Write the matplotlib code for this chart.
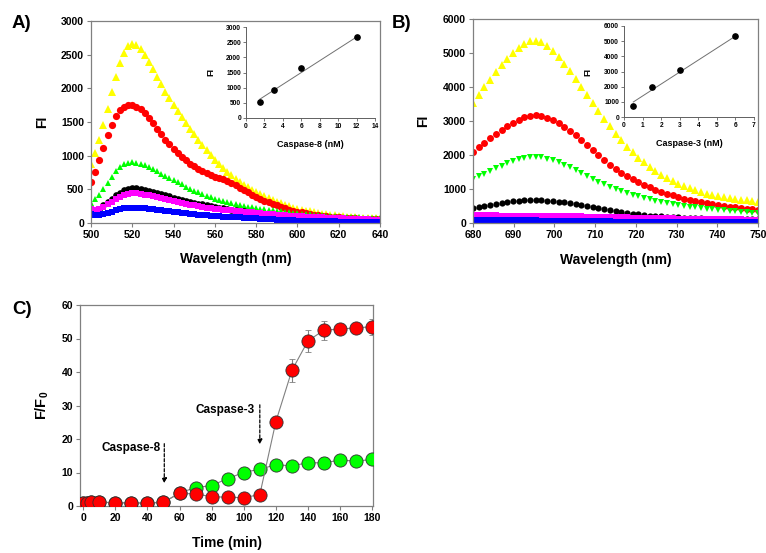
import matplotlib
matplotlib.use('Agg')
import matplotlib.pyplot as plt
import numpy as np

plt.rcParams['font.family'] = ['Liberation Sans', 'DejaVu Sans']
plt.rcParams['font.weight'] = 'bold'
plt.rcParams['mathtext.fontset'] = 'custom'
plt.rcParams['mathtext.bf'] = 'Liberation Sans:bold'
plt.rcParams['mathtext.rm'] = 'Liberation Sans:bold'

# ---------------- Panel A data (emission spectra, 500-640 nm) ----------------
wl_A = np.arange(500, 641, 2)
A_yellow = [880,1040,1230,1460,1700,1940,2170,2370,2530,2630,
            2660,2640,2580,2490,2390,2280,2170,2060,1950,1850,
            1750,1660,1570,1490,1400,1320,1240,1160,1080,1010,
            940,880,820,760,710,660,610,570,530,490,
            460,430,400,370,340,310,290,270,250,230,
            210,197,184,171,158,145,137,129,121,113,
            105,100,95,90,85,80,77,74,71,68,65]
A_red = [610,760,930,1110,1300,1460,1590,1680,1730,1750,
         1750,1730,1690,1630,1560,1480,1400,1320,1240,1170,
         1100,1040,980,930,880,840,800,770,740,710,
         690,670,650,625,595,560,525,490,455,420,
         390,360,330,305,280,260,240,220,200,185,
         170,158,146,134,124,115,108,101,95,90,
         85,81,77,73,69,65,63,61,59,57,55]
A_green = [300,350,420,510,600,690,770,830,870,895,
           900,895,880,860,830,800,770,735,705,670,
           640,605,575,540,510,480,455,430,405,380,
           360,343,327,311,295,280,268,256,244,232,
           220,212,204,196,188,180,173,166,159,152,
           145,140,135,130,125,120,115,110,105,100,
           95,92,90,87,85,82,80,77,75,72,70]
A_black = [200,190,215,260,310,360,410,450,490,510,
           520,515,505,495,480,465,447,430,412,395,
           378,362,346,330,315,300,288,276,264,252,
           240,230,220,210,200,190,181,172,163,155,
           147,139,131,124,117,110,104,98,92,86,
           80,76,72,68,64,60,57,54,51,48,
           45,43,41,39,37,35,34,33,32,31,30]
A_magenta = [210,195,205,235,275,315,355,390,418,435,
             442,440,432,422,410,398,383,368,352,336,
             320,308,296,284,272,260,250,240,230,220,
             210,204,198,192,186,180,174,168,162,156,
             150,145,140,135,130,125,120,115,110,105,
             100,97,94,91,88,85,82,79,76,73,
             70,68,65,63,60,58,55,53,50,48,45]
A_blue = [130,112,118,132,150,170,190,205,218,226,
          230,229,225,220,215,208,200,192,185,177,
          170,162,154,146,138,130,124,118,112,106,
          100,97,94,91,88,85,82,79,76,73,
          70,66,62,58,54,50,47,44,41,38,
          35,34,32,31,29,28,27,25,24,23,
          22,21,20,20,19,18,18,17,16,16,15]

# inset A
cas8_conc = [1.5, 3, 6, 12]
cas8_FI = [520, 920, 1640, 2660]
cas8_fit_x = [1.5, 12]
cas8_fit_y = [620, 2670]

# ---------------- Panel B data (680-750 nm) ----------------
wl_B = np.round(np.linspace(680, 750, 51), 1)
B_yellow = [3520,3760,3990,4220,4440,4640,4830,5000,5150,5270,
            5350,5360,5310,5200,5050,4880,4690,4480,4250,4010,
            3770,3530,3290,3060,2840,2620,2430,2250,2080,1920,
            1780,1650,1530,1420,1320,1230,1150,1080,1020,960,
            910,865,825,790,760,735,710,690,670,650,630]
B_red = [2100,2230,2360,2490,2610,2730,2840,2950,3040,3110,
         3160,3170,3150,3100,3030,2940,2830,2710,2580,2440,
         2290,2140,1990,1840,1700,1580,1470,1370,1280,1200,
         1120,1050,980,920,860,810,760,715,675,640,
         605,575,550,525,500,480,460,440,420,400,385]
B_green = [1290,1370,1450,1530,1610,1690,1760,1830,1880,1920,
           1950,1950,1930,1890,1840,1780,1710,1640,1560,1480,
           1390,1300,1220,1140,1060,990,930,870,820,780,
           740,700,660,620,590,560,530,505,480,460,
           440,420,400,385,370,355,340,325,310,295,280]
B_black = [440,470,500,530,560,590,615,640,655,670,
           675,675,670,660,645,625,605,580,555,525,
           495,465,435,405,375,345,320,295,275,255,
           235,220,205,192,180,170,162,155,148,142,
           136,131,127,124,121,118,116,114,112,110,108]
B_magenta = [225,224,223,222,221,220,219,218,217,216,
             215,214,213,211,209,207,204,201,198,195,
             191,187,183,179,175,171,167,163,159,155,
             151,147,143,139,136,133,130,127,124,121,
             118,116,114,112,110,108,106,104,102,100,98]
B_blue = [85,84,83,82,81,80,79,78,77,76,
          75,74,73,72,70,68,66,64,62,60,
          57,54,51,48,45,42,40,38,36,34,
          32,31,30,29,28,27,26,25,24,23,
          23,22,22,21,21,20,20,20,19,19,19]

# inset B
cas3_conc = [0.5, 1.5, 3, 6]
cas3_FI = [700, 1970, 3120, 5320]
cas3_fit_x = [0.5, 6]
cas3_fit_y = [990, 5330]

# ---------------- Panel C data (time course) ----------------
time_min = [0, 2.5, 5, 10, 20, 30, 40, 50, 60, 70, 80, 90, 100, 110, 120, 130, 140, 150, 160, 170, 180]
red_FF0 = [1.0, 1.0, 1.1, 1.1, 1.0, 0.9, 0.9, 1.1, 3.8, 3.6, 2.8, 2.6, 2.5, 3.4, 25.2, 40.5, 49.3, 52.5, 52.8, 53.2, 53.5]
red_err = [0.3, 0.3, 0.3, 0.3, 0.3, 0.3, 0.3, 0.3, 0.4, 0.4, 0.3, 0.3, 0.3, 0.4, 1.0, 3.5, 3.3, 2.8, 1.0, 0.8, 2.4]
green_FF0 = [1.0, 1.0, 1.1, 1.1, 1.0, 0.9, 0.9, 1.1, 3.9, 5.5, 6.1, 8.2, 10.0, 11.0, 12.3, 12.0, 12.9, 12.9, 13.7, 13.4, 13.9]
green_err = [0.3, 0.3, 0.3, 0.3, 0.3, 0.3, 0.3, 0.3, 0.3, 0.4, 0.4, 0.5, 0.5, 0.6, 0.8, 1.0, 1.0, 1.6, 1.0, 0.6, 0.8]

W, H = 766, 553
fig = plt.figure(figsize=(W / 100, H / 100), dpi=100)


def box(x0, y0, x1, y1):
    return [x0 / W, 1 - y1 / H, (x1 - x0) / W, (y1 - y0) / H]


SPINE = '#808080'


def style_main(ax):
    for s in ax.spines.values():
        s.set_color(SPINE)
        s.set_linewidth(0.9)
    ax.tick_params(direction='out', length=3, width=0.8, color=SPINE,
                   labelsize=7.5, pad=2)


def style_inset(ax):
    ax.spines['top'].set_visible(False)
    ax.spines['right'].set_visible(False)
    for s in ('left', 'bottom'):
        ax.spines[s].set_color('#606060')
        ax.spines[s].set_linewidth(0.7)
    ax.tick_params(direction='out', length=2, width=0.6, color='#606060',
                   labelsize=4.8, pad=1.5)
    ax.patch.set_alpha(0)


# ---------------- Panel A ----------------
axA = fig.add_axes(box(91, 21, 380, 223))
specA = [(A_yellow, '^', '#FFFF00', 5.5),
         (A_red, 'o', '#FF0000', 5.2),
         (A_green, '^', '#00FF00', 5.0),
         (A_black, 'o', '#000000', 4.8),
         (A_magenta, 's', '#FF00FF', 4.6),
         (A_blue, 's', '#0000FF', 4.4)]
for ys, m, c, ms in specA:
    axA.plot(wl_A, ys, ls='none', marker=m, color=c, ms=ms, mew=0)
axA.set_xlim(500, 640)
axA.set_ylim(0, 3000)
axA.set_xticks(range(500, 641, 20))
axA.set_yticks(range(0, 3001, 500))
style_main(axA)
axA.set_xlabel('Wavelength (nm)', fontsize=10, fontweight='bold')
axA.set_ylabel('FI', fontsize=10, fontweight='bold')
axA.xaxis.set_label_coords(0.5, -0.145)
axA.yaxis.set_label_coords(-0.145, 0.5)

insA = fig.add_axes(box(246, 27, 375, 118))
insA.plot(cas8_fit_x, cas8_fit_y, color='#707070', lw=0.7)
insA.plot(cas8_conc, cas8_FI, ls='none', marker='o', color='black', ms=3.8)
insA.set_xlim(0, 14)
insA.set_ylim(0, 3000)
insA.set_xticks(range(0, 15, 2))
insA.set_yticks(range(0, 3001, 500))
style_inset(insA)
insA.set_xlabel('Caspase-8 (nM)', fontsize=6.5, fontweight='bold')
insA.set_ylabel('FI', fontsize=6.5, fontweight='bold')
insA.xaxis.set_label_coords(0.5, -0.24)
insA.yaxis.set_label_coords(-0.24, 0.5)

# ---------------- Panel B ----------------
axB = fig.add_axes(box(473, 19, 758, 223))
specB = [(B_yellow, '^', '#FFFF00', 5.5),
         (B_red, 'o', '#FF0000', 5.0),
         (B_green, 'v', '#00FF00', 5.0),
         (B_black, 'o', '#000000', 4.5),
         (B_magenta, 's', '#FF00FF', 4.5),
         (B_blue, 's', '#0000FF', 4.2)]
for ys, m, c, ms in specB:
    axB.plot(wl_B, ys, ls='none', marker=m, color=c, ms=ms, mew=0)
axB.set_xlim(680, 750)
axB.set_ylim(0, 6000)
axB.set_xticks(range(680, 751, 10))
axB.set_yticks(range(0, 6001, 1000))
style_main(axB)
axB.set_xlabel('Wavelength (nm)', fontsize=10, fontweight='bold')
axB.set_ylabel('FI', fontsize=10, fontweight='bold')
axB.xaxis.set_label_coords(0.5, -0.145)
axB.yaxis.set_label_coords(-0.15, 0.5)

insB = fig.add_axes(box(624, 26, 754, 117))
insB.plot(cas3_fit_x, cas3_fit_y, color='#707070', lw=0.7)
insB.plot(cas3_conc, cas3_FI, ls='none', marker='o', color='black', ms=3.8)
insB.set_xlim(0, 7)
insB.set_ylim(0, 6000)
insB.set_xticks(range(0, 8))
insB.set_yticks(range(0, 6001, 1000))
style_inset(insB)
insB.set_xlabel('Caspase-3 (nM)', fontsize=6.5, fontweight='bold')
insB.set_ylabel('FI', fontsize=6.5, fontweight='bold')
insB.xaxis.set_label_coords(0.5, -0.24)
insB.yaxis.set_label_coords(-0.24, 0.5)

# ---------------- Panel C ----------------
axC = fig.add_axes(box(80, 305, 373, 506))
axC.errorbar(time_min, green_FF0, yerr=green_err, color='#808080', lw=0.8,
             marker='o', ms=9.5, mfc='#00FF00', mec='#303030', mew=0.6,
             ecolor='#808080', elinewidth=0.8, capsize=2, capthick=0.8)
axC.errorbar(time_min, red_FF0, yerr=red_err, color='#808080', lw=0.8,
             marker='o', ms=9.5, mfc='#FF0000', mec='#303030', mew=0.6,
             ecolor='#808080', elinewidth=0.8, capsize=2, capthick=0.8)
axC.set_xlim(-2, 180.5)
axC.set_ylim(0, 60)
axC.set_xticks(range(0, 181, 20))
axC.set_yticks(range(0, 61, 10))
style_main(axC)
for s in axC.spines.values():
    s.set_zorder(0.5)
axC.set_xlabel('Time (min)', fontsize=10, fontweight='bold')
axC.set_ylabel(r'$\mathbf{F/F_0}$', fontsize=10.5)
axC.xaxis.set_label_coords(0.5, -0.15)
axC.yaxis.set_label_coords(-0.1, 0.5)

# annotations
axC.annotate('', xy=(50.5, 6.8), xytext=(50.5, 18.6),
             arrowprops=dict(arrowstyle='-|>', linestyle=(0, (2.5, 1.5)),
                             color='black', lw=0.9, mutation_scale=7,
                             shrinkA=0, shrinkB=0))
axC.text(48, 17.3, 'Caspase-8', ha='right', va='center', fontsize=8.5,
         fontweight='bold')
axC.annotate('', xy=(110, 18.4), xytext=(110, 30.2),
             arrowprops=dict(arrowstyle='-|>', linestyle=(0, (2.5, 1.5)),
                             color='black', lw=0.9, mutation_scale=7,
                             shrinkA=0, shrinkB=0))
axC.text(106.5, 28.8, 'Caspase-3', ha='right', va='center', fontsize=8.5,
         fontweight='bold')

# panel letters
fig.text(12 / W, 1 - 24 / H, 'A)', fontsize=13.5, fontweight='bold', va='center', ha='left')
fig.text(392 / W, 1 - 23 / H, 'B)', fontsize=13.5, fontweight='bold', va='center', ha='left')
fig.text(12 / W, 1 - 309 / H, 'C)', fontsize=13.5, fontweight='bold', va='center', ha='left')

fig.savefig('out.png', dpi=100)
